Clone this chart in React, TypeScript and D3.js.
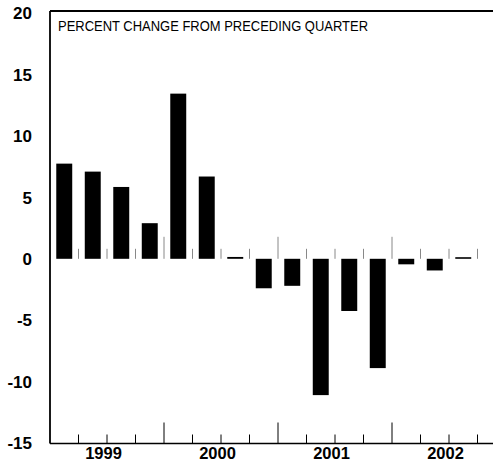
import React from "react";
import * as d3 from "d3";

const quarters = [
  "1999Q1", "1999Q2", "1999Q3", "1999Q4",
  "2000Q1", "2000Q2", "2000Q3", "2000Q4",
  "2001Q1", "2001Q2", "2001Q3", "2001Q4",
  "2002Q1", "2002Q2", "2002Q3", "2002Q4",
];
const values = [7.75, 7.1, 5.85, 2.9, 13.45, 6.7, 0.15, -2.4, -2.2, -11.1, -4.25, -8.9, -0.45, -0.95, 0.1];
const years = ["1999", "2000", "2001", "2002"];
const yTicks = [-15, -10, -5, 0, 5, 10, 15, 20];
const title = "PERCENT CHANGE FROM PRECEDING QUARTER";

const W = 493;
const H = 464;
const left = 50;
const top = 11;
const bottom = 443.5;
const right = 50 + 16 * 28.5;

export default function App() {
  const x = d3
    .scaleBand<string>()
    .domain(quarters)
    .range([left, right])
    .paddingInner(0.44)
    .paddingOuter(0.22);
  const y = d3.scaleLinear().domain([-15, 20]).range([443, 13.2]);
  const step = x.step();
  const boundaries = d3.range(1, 16).map((i) => left + i * step);
  const font = "'Liberation Sans', Arial, Helvetica, sans-serif";
  const y0 = y(0);

  return (
    <svg
      width={W}
      height={H}
      style={{ position: "absolute", left: 0, top: 0, display: "block", background: "#fff" }}
    >
      {/* frame */}
      <line x1={left} x2={W} y1={top} y2={top} stroke="#000" strokeWidth={1.8} />
      <line x1={left} x2={left} y1={top} y2={bottom} stroke="#000" strokeWidth={1.8} />
      <line x1={left} x2={W} y1={bottom} y2={bottom} stroke="#000" strokeWidth={1.6} />

      {/* title */}
      <text
        x={58}
        y={31}
        fontFamily={font}
        fontSize={15}
        textLength={310}
        lengthAdjust="spacingAndGlyphs"
        fill="#000"
      >
        {title}
      </text>

      {/* y labels */}
      {yTicks.map((t) => (
        <text
          key={t}
          x={32}
          y={y(t)}
          dy="0.36em"
          textAnchor="end"
          fontFamily={font}
          fontWeight="bold"
          fontSize={17}
          fill="#000"
        >
          {t}
        </text>
      ))}

      {/* zero-line ticks */}
      {boundaries.map((b, i) => {
        const isYear = (i + 1) % 4 === 0;
        return (
          <line
            key={"z" + i}
            x1={b}
            x2={b}
            y1={y0}
            y2={y0 - (isYear ? 22 : 10)}
            stroke="#888"
            strokeWidth={1}
          />
        );
      })}

      {/* bottom ticks */}
      {boundaries.map((b, i) => {
        const isYear = (i + 1) % 4 === 0;
        return (
          <line
            key={"b" + i}
            x1={b}
            x2={b}
            y1={bottom}
            y2={bottom - (isYear ? 21 : 9)}
            stroke="#000"
            strokeWidth={1}
          />
        );
      })}

      {/* bars */}
      {values.map((v, i) => {
        const h = Math.max(Math.abs(y(v) - y0), 1.6);
        return (
          <rect
            key={quarters[i]}
            x={x(quarters[i])}
            y={v >= 0 ? y0 - h : y0}
            width={x.bandwidth()}
            height={h}
            fill="#000"
          />
        );
      })}

      {/* year labels */}
      {years.map((yr, i) => (
        <text
          key={yr}
          x={left + (i * 4 + 2) * step - 3.5}
          y={459}
          textAnchor="middle"
          fontFamily={font}
          fontWeight="bold"
          fontSize={16.5}
          fill="#000"
        >
          {yr}
        </text>
      ))}
    </svg>
  );
}
